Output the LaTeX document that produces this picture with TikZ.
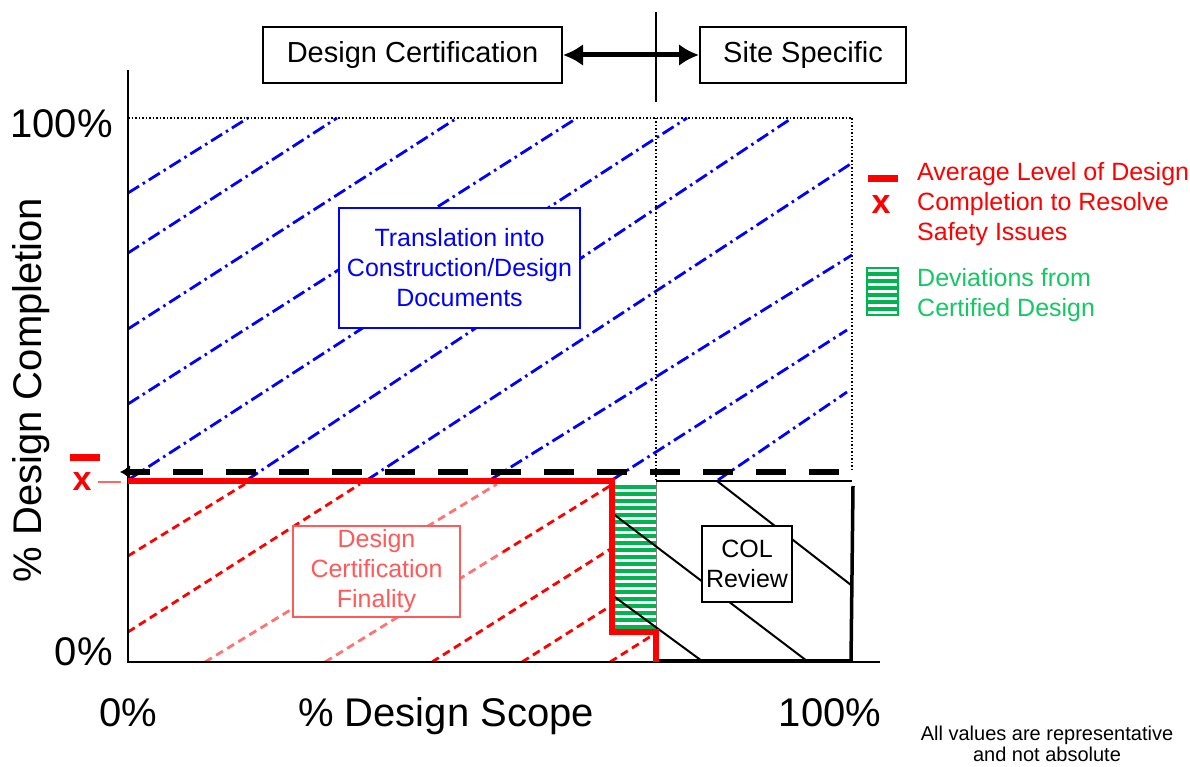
\documentclass[tikz,border=0pt]{standalone}
\usepackage{fontspec}
\setmainfont{Liberation Sans}
\usetikzlibrary{arrows.meta,positioning}
\definecolor{hatchblue}{RGB}{0,0,255}
\definecolor{finalred}{RGB}{255,90,90}
\definecolor{devgreen}{RGB}{0,180,80}
\definecolor{legendgreen}{RGB}{20,200,100}

\tikzset{
    labelbox/.style={draw, line width=2pt, fill=white, align=center, inner sep=0pt},
    bluehatch/.style={hatchblue, line width=2.8pt, dash pattern=on 13pt off 4.5pt on 2.5pt off 4.5pt},
    redhatch/.style={line width=2.8pt, dash pattern=on 8pt off 5pt},
    colhatch/.style={black, line width=2pt},
    gridline/.style={black, line width=1.5pt, dash pattern=on 1.5pt off 2pt},
    stripe/.style={devgreen, line width=3.5pt},
    txt/.style={font=\fontsize{25}{30}\selectfont},
    headtxt/.style={font=\fontsize{29}{34}\selectfont},
    bigtxt/.style={font=\fontsize{40}{48}\selectfont, inner sep=0pt},
    xmark/.style={red, font=\fontsize{34}{34}\selectfont\bfseries, inner sep=0pt}
}

\begin{document}
\begin{tikzpicture}[x=1pt, y=-1pt]
    \useasboundingbox (0,0) rectangle (1190,767);

    % hatching
    \foreach \xa/\ya/\xb/\yb in {128/193/248/118, 128/253/337/118, 128/329/457/118, 128/404/577/118,
        128/480/687/118, 247/480/792/118, 367/480/852/163, 490/480/852/255, 612/480/847/330, 718/480/847/392}
        \draw[bluehatch] (\xa,\ya) -- (\xb,\yb);
    \foreach \xa/\ya/\xb/\yb/\c in {128/556/245/484/red, 128/632/360/484/red, 205/662/497/484/red!55,
        325/662/503/552/red!55, 503/552/613/484/red, 432/662/612/548/red, 522/662/612/605/red, 610/662/656/633/red}
        \draw[redhatch, \c] (\xa,\ya) -- (\xb,\yb);

    % deviations
    \fill[white] (613,483) rectangle (656,632);
    \foreach \y in {487,494,...,630}
        \draw[stripe] (613,\y) -- (656,\y);
    \draw[gray, line width=1pt] (656,482) -- (656,632);

    % COL area
    \draw[colhatch] (717,481) -- (851,585);
    \draw[colhatch] (612,513) -- (807,661);
    \draw[colhatch] (612,595) -- (702,661);
    \draw[line width=2pt] (656,481) -- (852,481);
    \draw[line width=3.5pt] (853,486) -- (851,662);
    \draw[line width=3.5pt] (656,661) -- (852,661);

    % axes and grid
    \draw[gridline] (128,118) -- (852,118) -- (852,472);
    \draw[gridline] (656,118) -- (656,480);
    \draw[line width=2.5pt] (128,70) -- (128,662) -- (880,662);

    \draw[red, line width=6pt, line join=miter] (128,481) -- (612,481) -- (612,632) -- (656,632) -- (656,662);
    \draw[line width=6pt, dash pattern=on 30pt off 23pt, dash phase=9pt, {Latex[length=10pt,width=14pt]}-] (120,472) -- (852,472);

    \node[labelbox, txt, draw=hatchblue, text=hatchblue, minimum width=241pt, minimum height=120pt] (transl) at (459.5,268) {Translation into\\Construction/Design\\Documents};
    \node[labelbox, txt, draw=finalred, text=finalred, minimum width=167pt, minimum height=91pt] (final) at (376.5,571.5) {Design\\Certification\\Finality};
    \node[labelbox, txt, minimum width=90pt, minimum height=76pt] (colrev) at (747,564) {COL\\Review};

    % header
    \node[labelbox, headtxt, minimum width=299pt, minimum height=56pt] (dcert) at (412.5,55) {Design Certification};
    \node[labelbox, headtxt, minimum width=206pt, minimum height=56pt] (site) at (803,55) {Site Specific};
    \draw[line width=5pt, {Latex[length=20pt,width=22pt]}-{Latex[length=20pt,width=22pt]}] (dcert) -- (site);
    \coordinate (divtop) at (656,12);
    \coordinate (divbot) at (656,102);
    \draw[line width=2pt] (divtop) -- (divbot);

    % axis labels
    \node[bigtxt, anchor=base east] (ymax) at (113,138) {100\%};
    \node[bigtxt, anchor=base east] (ymin) at (113,665) {0\%};
    \node[bigtxt, anchor=base] (xmin) at (128,726) {0\%};
    \node[bigtxt, anchor=base] (xlabel) at (446,726) {\% Design Scope};
    \node[bigtxt, anchor=base] (xmax) at (830,726) {100\%};
    \node[bigtxt, anchor=base, rotate=90] (ylabel) at (41,390) {\% Design Completion};

    % safety level marker
    \draw[red, line width=7pt] (70,457) -- (100,457);
    \node[xmark] (levelx) at (82,482) {x};
    \coordinate (ticka) at (98,482);
    \coordinate (tickb) at (121,482);
    \draw[red!60, line width=2pt] (ticka) -- (tickb);

    % legend
    \draw[red, line width=7pt] (868,178.5) -- (898,178.5);
    \node[xmark] (legx) at (881,205) {x};
    \node[txt, red, align=left, anchor=north west, inner sep=0pt] (avgtxt) at (917,162) {Average Level of Design\\Completion to Resolve\\Safety Issues};
    \fill[white] (867,268) rectangle (898,315);
    \foreach \y in {274,281,...,310}
        \draw[stripe] (868,\y) -- (897,\y);
    \draw[devgreen, line width=2pt] (867,268) rectangle (898,315);
    \node[txt, legendgreen, align=left, anchor=north west, inner sep=0pt] (devtxt) at (917,268.5) {Deviations from\\Certified Design};

    \node[font=\fontsize{20}{21}\selectfont, align=center, anchor=north, inner sep=0pt] (note) at (1047,726) {All values are representative\\and not absolute};
\end{tikzpicture}
\end{document}
